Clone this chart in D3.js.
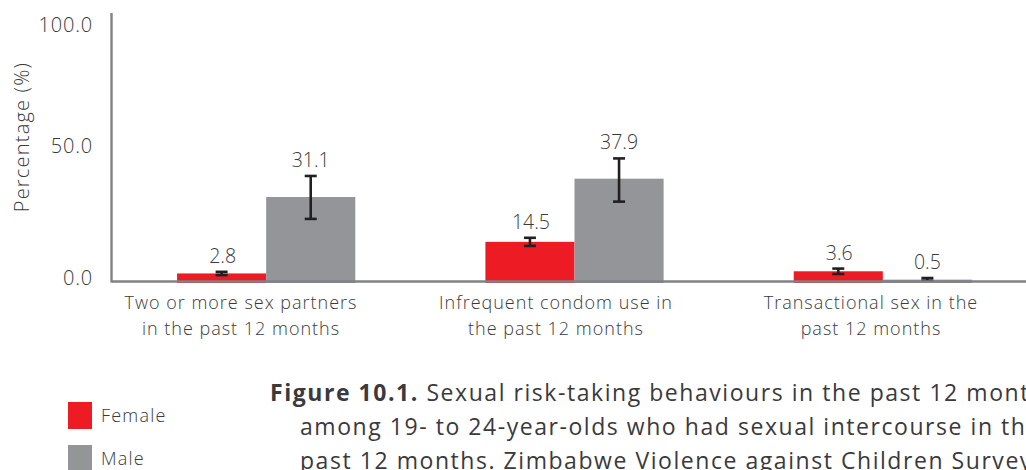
<!DOCTYPE html>
<html>
<head>
<meta charset="utf-8">
<script src="https://cdn.jsdelivr.net/npm/d3@7"></script>
<style>
  html, body { margin: 0; padding: 0; background: #fff; }
  svg { display: block; font-family: "Open Sans", "Noto Sans", sans-serif; }
</style>
</head>
<body>
<svg id="chart" width="1026" height="470"></svg>
<script>
// Sexual risk-taking behaviours, by sex (%), with 95% confidence intervals
const categories = [
  ["Two or more sex partners", "in the past 12 months"],
  ["Infrequent condom use in", "the past 12 months"],
  ["Transactional sex in the", "past 12 months"]
];
const series = ["Female", "Male"];
const femaleValues = [2.8, 14.5, 3.6];
const maleValues = [31.1, 37.9, 0.5];
const femaleLow = [2.2, 13.0, 2.6];
const femaleHigh = [3.4, 16.0, 4.6];
const maleLow = [23.0, 29.4, 0.1];
const maleHigh = [38.9, 45.4, 1.1];
const yTicks = [0, 50, 100];
const captionLines = [
  [{ t: "Figure 10.1.", b: true }, { t: " Sexual risk-taking behaviours in the past 12 months" }],
  [{ t: "among 19- to 24-year-olds who had sexual intercourse in the" }],
  [{ t: "past 12 months. Zimbabwe Violence against Children Survey, 2017" }]
];

const colors = { Female: "#ed1c24", Male: "#939598" };
const ink = "#3a3a3c";
const svg = d3.select("#chart");

const plot = { left: 112, right: 1037, top: 11, bottom: 281 };

const rows = categories.map((c, i) => ({
  i,
  bars: [
    { s: "Female", v: femaleValues[i], lo: femaleLow[i], hi: femaleHigh[i] },
    { s: "Male", v: maleValues[i], lo: maleLow[i], hi: maleHigh[i] }
  ]
}));

const x0 = d3.scaleBand().domain(d3.range(categories.length))
  .range([plot.left, plot.right]).paddingInner(0).paddingOuter(0);
const groupW = x0.bandwidth() * 0.578;
const x1 = d3.scaleBand().domain(series).range([0, groupW]).padding(0);
const y = d3.scaleLinear().domain([0, 100]).range([plot.bottom, plot.top]);

// category labels sit on their own evenly spaced row
const xLabel = d3.scalePoint().domain(d3.range(categories.length))
  .range([241, 871]);

// bars
const g = svg.append("g");
const groups = g.selectAll("g.grp").data(rows).join("g")
  .attr("transform", d => `translate(${x0(d.i) + (x0.bandwidth() - groupW) / 2},0)`);

groups.selectAll("rect").data(d => d.bars).join("rect")
  .attr("x", d => x1(d.s))
  .attr("width", x1.bandwidth())
  .attr("y", d => y(d.v))
  .attr("height", d => y(0) - y(d.v) + 2)
  .attr("fill", d => colors[d.s]);

// axes
svg.append("line")
  .attr("x1", plot.left - 0.5).attr("x2", 1026)
  .attr("y1", y(0) + 0.5).attr("y2", y(0) + 0.5)
  .attr("stroke", "#808285").attr("stroke-width", 2.6);
svg.append("line")
  .attr("x1", plot.left - 0.5).attr("x2", plot.left - 0.5)
  .attr("y1", 13).attr("y2", y(0) + 1.5)
  .attr("stroke", "#808285").attr("stroke-width", 2.4);

// error bars
const eb = groups.selectAll("g.err").data(d => d.bars).join("g")
  .attr("transform", d => `translate(${x1(d.s) + x1.bandwidth() / 2},0)`)
  .attr("stroke", "#231f20").attr("stroke-width", 2.6).attr("fill", "none");
eb.append("line").attr("y1", d => y(d.hi)).attr("y2", d => y(d.lo));
eb.append("line").attr("x1", -6).attr("x2", 6).attr("y1", d => y(d.hi)).attr("y2", d => y(d.hi));
eb.append("line").attr("x1", -6).attr("x2", 6).attr("y1", d => y(d.lo)).attr("y2", d => y(d.lo));

// value labels
groups.selectAll("text.val").data(d => d.bars).join("text")
  .attr("x", d => x1(d.s) + x1.bandwidth() / 2 + (d.s === "Female" ? 1 : 0))
  .attr("y", d => y(d.hi) - 9)
  .attr("text-anchor", "middle")
  .attr("font-size", 19.5).attr("font-weight", 300).attr("fill", ink)
  .text(d => d.v.toFixed(1));

// y tick labels, kept within the plot frame
svg.selectAll("text.ytick").data(yTicks).join("text")
  .attr("x", 93)
  .attr("y", d => Math.min(Math.max(y(d), 25), 277.5))
  .attr("dy", "0.35em")
  .attr("text-anchor", "end")
  .attr("font-size", 20).attr("letter-spacing", 0.8)
  .attr("font-weight", 300).attr("fill", ink)
  .text(d => d.toFixed(1));

svg.append("text")
  .attr("transform", "translate(22,137) rotate(-90)")
  .attr("dy", "0.35em")
  .attr("text-anchor", "middle")
  .attr("font-size", 20).attr("letter-spacing", 1.2)
  .attr("font-weight", 300).attr("fill", ink)
  .text("Percentage (%)");

// category labels
const cat = svg.selectAll("text.cat").data(categories).join("text")
  .attr("text-anchor", "middle")
  .attr("font-size", 18).attr("letter-spacing", 1)
  .attr("font-weight", 300).attr("fill", ink);
cat.selectAll("tspan").data((d, i) => d.map(t => ({ t, i }))).join("tspan")
  .attr("x", d => xLabel(d.i))
  .attr("y", (d, j) => 309 + j * 25.5)
  .text(d => d.t);

// legend
const leg = svg.selectAll("g.leg").data(series).join("g")
  .attr("transform", (d, i) => `translate(68,${402 + i * 43})`);
leg.append("rect").attr("width", 24).attr("height", 27).attr("fill", d => colors[d]);
leg.append("text").attr("x", 33).attr("y", 14).attr("dy", "0.35em")
  .attr("font-size", 18).attr("letter-spacing", 1.2)
  .attr("font-weight", 300).attr("fill", ink)
  .text(d => d);

// caption
const cap = svg.append("g").attr("font-size", 23).attr("letter-spacing", 1.55).attr("fill", ink);
captionLines.forEach((line, i) => {
  const t = cap.append("text")
    .attr("x", i === 0 ? 270 : 300)
    .attr("y", 392.5 + i * 34)
    .attr("dy", "0.35em");
  line.forEach(p => t.append("tspan").attr("font-weight", p.b ? 700 : 400).text(p.t));
});
</script>
</body>
</html>
